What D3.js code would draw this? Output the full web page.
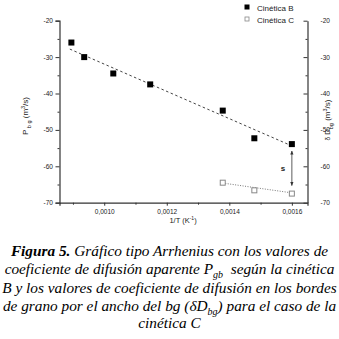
<!DOCTYPE html>
<html><head><meta charset="utf-8">
<script src="https://cdn.jsdelivr.net/npm/d3@7"></script>
<style>body{margin:0;background:#fff}svg{display:block}</style>
</head><body>
<script>
const xB = [0.000895, 0.000936, 0.001029, 0.001147, 0.001379, 0.00148, 0.0016];
const yB = [-26.0, -30.0, -34.5, -37.5, -44.7, -52.3, -53.9];
const xC = [0.001379, 0.00148, 0.0016];
const yC = [-64.5, -66.6, -67.5];
const fitBx = [0.00089, 0.0016];
const fitBy = [-27.8, -54.4];
const fitCx = [0.001379, 0.0016];
const fitCy = [-64.6, -67.3];
const arrowX = [0.0016, 0.0016];
const arrowY = [-55.8, -65.3];
const xTicks = [0.0010, 0.0012, 0.0014, 0.0016];
const xMinor = [0.0009, 0.0011, 0.0013, 0.0015];
const yTicks = [-20, -30, -40, -50, -60, -70];
const yMinor = [-25, -35, -45, -55, -65];
const legendNames = ["Cinética B", "Cinética C"];
const captionLines = [
  [["Figura 5.", true], [" Gráfico tipo Arrhenius con los valores de", false]],
  null,
  [["B y los valores de coeficiente de difusión en los bordes", false]],
  null,
  [["cinética C", false]]
];

const W = 339, H = 339;
const svg = d3.select("body").append("svg").attr("width", W).attr("height", H);
const x = d3.scaleLinear().domain([0.000857, 0.00165]).range([59.5, 307.5]);
const y = d3.scaleLinear().domain([-20, -70]).range([20.7, 202.7]);
const fmt = d => d3.format(".4f")(d).replace(".", ",");
const yfmt = d => String(d);
const sans = "Liberation Sans, Arial, sans-serif";

// axes
svg.append("g").attr("transform", `translate(0,${y(-70)})`)
  .call(d3.axisBottom(x).tickValues(xTicks).tickFormat(fmt).tickSizeOuter(0).tickSize(3).tickPadding(4));
svg.append("g").attr("transform", `translate(0,${y(-70)})`)
  .call(d3.axisBottom(x).tickValues(xMinor).tickFormat("").tickSizeOuter(0).tickSize(2))
  .select(".domain").remove();
svg.append("g").attr("transform", `translate(${x.range()[0]},0)`)
  .call(d3.axisLeft(y).tickValues(yTicks).tickFormat(yfmt).tickSizeOuter(0).tickSize(4).tickPadding(2.5));
svg.append("g").attr("transform", `translate(${x.range()[0]},0)`)
  .call(d3.axisLeft(y).tickValues(yMinor).tickFormat("").tickSize(2)).select(".domain").remove();
svg.append("g").attr("transform", `translate(${x.range()[1]},0)`)
  .call(d3.axisRight(y).tickValues(yTicks).tickFormat(yfmt).tickSizeOuter(0).tickSizeInner(-4).tickPadding(13));
svg.append("g").attr("transform", `translate(${x.range()[1]},0)`)
  .call(d3.axisRight(y).tickValues(yMinor).tickFormat("").tickSize(-2)).select(".domain").remove();
svg.selectAll(".domain").attr("stroke", "#333").attr("stroke-width", 1.2);
svg.selectAll(".tick line").attr("stroke", "#333");
svg.selectAll(".tick text").attr("font-family", sans).attr("font-size", 6.5).attr("fill", "#222");

// fit lines
const line = d3.line().x(d => x(d[0])).y(d => y(d[1]));
svg.append("path").datum(d3.zip(fitBx, fitBy)).attr("d", line)
  .attr("fill", "none").attr("stroke", "#444").attr("stroke-width", 1).attr("stroke-dasharray", "2.5,2.5");
svg.append("path").datum(d3.zip(fitCx, fitCy)).attr("d", line)
  .attr("fill", "none").attr("stroke", "#777").attr("stroke-width", 1).attr("stroke-dasharray", "1,1.5");

// points
svg.selectAll(".pb").data(d3.zip(xB, yB)).join("rect")
  .attr("x", d => x(d[0]) - 3).attr("y", d => y(d[1]) - 3).attr("width", 6).attr("height", 6).attr("fill", "#000");
svg.selectAll(".pc").data(d3.zip(xC, yC)).join("rect")
  .attr("x", d => x(d[0]) - 2.5).attr("y", d => y(d[1]) - 2.5).attr("width", 5).attr("height", 5)
  .attr("fill", "#fff").attr("stroke", "#888").attr("stroke-width", 1);

// arrow
const defs = svg.append("defs");
defs.append("marker").attr("id", "ah").attr("viewBox", "0 0 10 10").attr("refX", 9).attr("refY", 5)
  .attr("markerWidth", 5).attr("markerHeight", 5).attr("orient", "auto-start-reverse")
  .append("path").attr("d", "M0,1 L10,5 L0,9 Z").attr("fill", "#333");
svg.append("path").datum(d3.zip(arrowX, arrowY)).attr("d", line)
  .attr("stroke", "#333").attr("stroke-width", 0.8).attr("fill", "none")
  .attr("marker-start", "url(#ah)").attr("marker-end", "url(#ah)");
svg.append("text").attr("x", x(0.0016) - 9).attr("y", y(-61.2)).attr("text-anchor", "middle")
  .attr("font-family", sans).attr("font-size", 8).attr("font-weight", "bold").attr("fill", "#222").text("s");

// legend
const lg = svg.append("g");
lg.append("rect").attr("x", 244.5).attr("y", 4.5).attr("width", 5).attr("height", 5).attr("fill", "#000");
lg.append("rect").attr("x", 245).attr("y", 17).attr("width", 4).attr("height", 4).attr("fill", "#fff").attr("stroke", "#888").attr("stroke-width", 0.8);
legendNames.forEach((n, i) => lg.append("text").attr("x", 257).attr("y", 10.5 + i * 12.3)
  .attr("font-family", sans).attr("font-size", 8).attr("fill", "#222").text(n));

// axis titles
const xt = svg.append("text").attr("x", 183).attr("y", 223).attr("text-anchor", "middle")
  .attr("font-family", sans).attr("font-size", 7.5).attr("fill", "#222");
xt.append("tspan").text("1/T (K");
xt.append("tspan").attr("dy", -3).attr("font-size", 5).text("-1");
xt.append("tspan").attr("dy", 3).text(")");

const yl = svg.append("text").attr("transform", "translate(28,116) rotate(-90)").attr("text-anchor", "middle")
  .attr("font-family", sans).attr("font-size", 8).attr("fill", "#222");
yl.append("tspan").text("P");
yl.append("tspan").attr("dy", 3).attr("font-size", 5.5).text(" b g");
yl.append("tspan").attr("dy", -3).text(" (m");
yl.append("tspan").attr("dy", -3).attr("font-size", 5.5).text("3");
yl.append("tspan").attr("dy", 3).text("/s)");

const yr = svg.append("text").attr("transform", "translate(330,120) rotate(-90)").attr("text-anchor", "middle")
  .attr("font-family", sans).attr("font-size", 8).attr("fill", "#222");
yr.append("tspan").attr("font-size", 6.5).text("δ ");
yr.append("tspan").text("D");
yr.append("tspan").attr("dy", 3).attr("font-size", 5.5).text("bg");
yr.append("tspan").attr("dy", -3).text(" (m");
yr.append("tspan").attr("dy", -3).attr("font-size", 5.5).text("3");
yr.append("tspan").attr("dy", 3).text("/s)");

// caption
const serif = "Liberation Serif, Times New Roman, serif";
const fs = 15.3;
const baselines = [256, 274, 292.5, 310.5, 328];
const cap = svg.append("g").attr("font-family", serif).attr("font-style", "italic").attr("font-size", fs).attr("fill", "#000")
  .style("white-space", "pre");
function capLine(i) { return cap.append("text").attr("x", W / 2).attr("y", baselines[i]).attr("text-anchor", "middle"); }
let t = capLine(0);
captionLines[0].forEach(([s, b]) => t.append("tspan").attr("font-weight", b ? "bold" : "normal").text(s));
t = capLine(1);
t.append("tspan").text("coeficiente de difusión aparente P");
t.append("tspan").attr("dy", 4).attr("font-size", 10).text("gb");
t.append("tspan").attr("dy", -4).text("\u00a0 según la cinética");
t = capLine(2);
t.append("tspan").text(captionLines[2][0][0]);
t = capLine(3);
t.append("tspan").text("de grano por el ancho del bg (δD");
t.append("tspan").attr("dy", 4).attr("font-size", 10).text("bg");
t.append("tspan").attr("dy", -4).text(") para el caso de la");
t = capLine(4);
t.append("tspan").text(captionLines[4][0][0]);
</script>
</body></html>
